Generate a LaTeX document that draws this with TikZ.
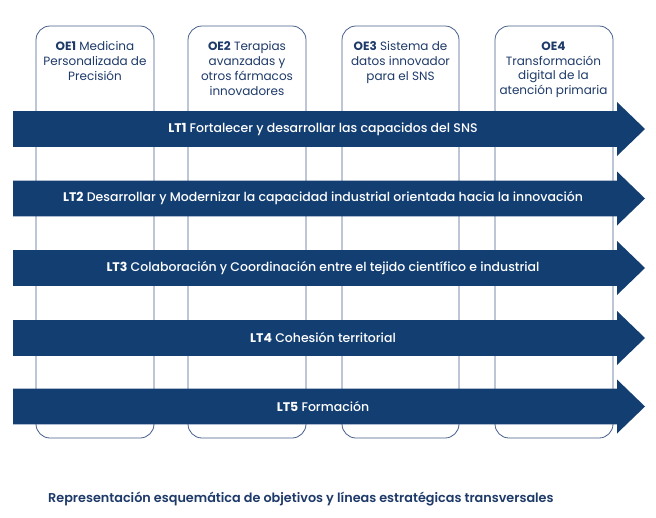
\documentclass[tikz,border=0pt]{standalone}
\usepackage{fontspec}
\setmainfont{Poppins}
\newfontfamily\popmed{Poppins}[UprightFont=* Medium, BoldFont=* Bold]
\newfontfamily\popsemi{Poppins}[UprightFont=* SemiBold]
\definecolor{navy}{RGB}{19,62,114}
\definecolor{boxline}{RGB}{70,95,140}
\definecolor{oetext}{RGB}{30,58,105}
\begin{document}
\begin{tikzpicture}[x=1pt,y=-1pt,
  oebox/.style={draw=boxline,line width=0.8pt,rounded corners=14pt,fill=white},
  oelabel/.style={text=oetext,font=\fontsize{12}{14.8}\selectfont,align=center,anchor=north,inner sep=0pt},
  ltarrow/.style={fill=navy},
  ltlabel/.style={text=white,font=\popmed\fontsize{12.5}{14}\selectfont,inner sep=0pt},
  caption/.style={text=oetext,font=\popsemi\fontsize{12.8}{14}\selectfont,anchor=west,inner sep=0pt}]
\useasboundingbox (0,0) rectangle (656,517);
% column boxes
\draw[oebox] (36,26) rectangle (154,438);
\draw[oebox] (188,26) rectangle (306,438);
\draw[oebox] (342,26) rectangle (459,438);
\draw[oebox] (495,26) rectangle (613,438);
\node[oelabel] (oe1) at (95,41.5) {\textbf{OE1} Medicina\\Personalizada de\\Precisión};
\node[oelabel] (oe2) at (247,41.5) {\textbf{OE2} Terapias\\avanzadas y\\otros fármacos\\innovadores};
\node[oelabel] (oe3) at (400.5,41.5) {\textbf{OE3} Sistema de\\datos innovador\\para el SNS};
\node[oelabel] (oe4) at (553.5,41.5) {\textbf{OE4}\\Transformación\\digital de la\\atención primaria};
% arrows
\foreach \y/\n in {129/1,198.5/2,268/3,338/4,406.5/5}{
  \fill[ltarrow] (13,\y-17.8) -- (617,\y-17.8) -- (617,\y-27) -- (645,\y) -- (617,\y+27) -- (617,\y+17.8) -- (13,\y+17.8) -- cycle;
  \coordinate (lt\n) at (323,\y);
}
\node[ltlabel] (t1) at (lt1) {\textbf{LT1} Fortalecer y desarrollar las capacidos del SNS};
\node[ltlabel] (t2) at (lt2) {\textbf{LT2} Desarrollar y Modernizar la capacidad industrial orientada hacia la innovación};
\node[ltlabel] (t3) at (lt3) {\textbf{LT3} Colaboración y Coordinación entre el tejido científico e industrial};
\node[ltlabel] (t4) at (lt4) {\textbf{LT4} Cohesión territorial};
\node[ltlabel] (t5) at (lt5) {\textbf{LT5} Formación};
\node[caption] (cap) at (48,499) {Representación esquemática de objetivos y líneas estratégicas transversales};
\end{tikzpicture}
\end{document}
